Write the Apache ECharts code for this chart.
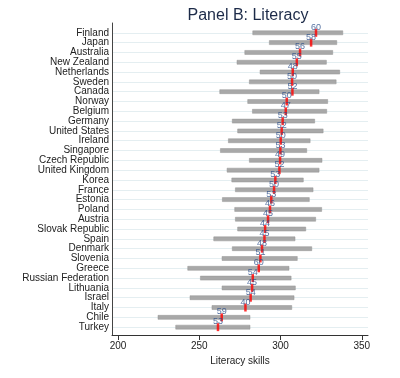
<!DOCTYPE html>
<html>
<head>
<meta charset="utf-8">
<script src="https://cdn.jsdelivr.net/npm/echarts@6/dist/echarts.min.js"></script>
<style>
  html, body { margin: 0; padding: 0; background: #fff; }
  #main { width: 400px; height: 378px; }
</style>
</head>
<body>
<div id="main"></div>
<script>
// countries, top to bottom
var countries = ['Finland', 'Japan', 'Australia', 'New Zealand', 'Netherlands', 'Sweden', 'Canada',
  'Norway', 'Belgium', 'Germany', 'United States', 'Ireland', 'Singapore', 'Czech Republic',
  'United Kingdom', 'Korea', 'France', 'Estonia', 'Poland', 'Austria', 'Slovak Republic', 'Spain',
  'Denmark', 'Slovenia', 'Greece', 'Russian Federation', 'Lithuania', 'Israel', 'Italy', 'Chile', 'Turkey'];

// range bars (low / high)
var lowVals = [282.9, 293.1, 278.0, 273.2, 287.4, 280.8, 262.6,
  279.8, 282.7, 270.3, 273.6, 267.9, 263.0, 280.8,
  267.1, 270.0, 272.2, 264.2, 271.8, 272.2, 273.6, 258.9,
  270.3, 264.0, 242.9, 250.7, 264.0, 244.3, 257.8, 224.6, 235.5];
var highVals = [338.3, 334.6, 332.1, 328.2, 336.4, 334.2, 323.7,
  329.0, 328.4, 321.0, 326.2, 318.2, 316.1, 325.5,
  323.7, 314.0, 320.0, 317.7, 325.3, 321.6, 315.5, 308.9,
  319.2, 310.3, 305.2, 306.5, 309.1, 308.3, 306.9, 281.2, 281.2];

// red marks
var meanVals = [321.8, 318.8, 312.0, 310.0, 307.5, 307.1, 307.3,
  303.8, 303.2, 301.3, 300.7, 300.1, 299.9, 299.7,
  299.3, 296.8, 296.0, 294.3, 293.5, 292.3, 290.5, 290.1,
  288.6, 287.6, 286.6, 282.9, 282.5, 281.6, 278.4, 263.8, 261.5];

// small blue labels
var markLabels = [60, 58, 56, 55, 48, 50, 52,
  50, 47, 53, 52, 50, 53, 49,
  52, 53, 50, 53, 46, 45, 44, 45,
  48, 51, 60, 54, 45, 54, 40, 59, 53];

var xTicks = [200, 250, 300, 350];

var chart = echarts.init(document.getElementById('main'), null, { renderer: 'canvas' });

var rangeData = countries.map(function (c, i) { return [lowVals[i], highVals[i], i]; });
var meanData = countries.map(function (c, i) { return [meanVals[i], i, markLabels[i]]; });

var option = {
  animation: false,
  textStyle: { fontFamily: 'Liberation Sans, Arial, sans-serif' },
  title: {
    text: 'Panel B: Literacy',
    left: 243,
    top: 3,
    textAlign: 'center',
    textStyle: { fontSize: 16, fontWeight: 'normal', color: '#1c2a48' }
  },
  grid: { left: 112, right: 32, top: 23, bottom: 43 },
  xAxis: {
    type: 'value',
    min: 196.3,
    max: 353.8,
    name: 'Literacy skills',
    nameLocation: 'middle',
    nameGap: 17,
    nameTextStyle: { fontSize: 10, color: '#222' },
    axisLine: { show: true, onZero: false, lineStyle: { color: '#333', width: 1 } },
    axisTick: { show: true, length: 5, customValues: xTicks, lineStyle: { color: '#333' } },
    axisLabel: { customValues: xTicks, fontSize: 10, color: '#222', margin: 6 },
    splitLine: { show: false }
  },
  yAxis: {
    type: 'value',
    inverse: true,
    min: -1,
    max: 30.8,
    interval: 1,
    axisLine: { show: true, onZero: false, lineStyle: { color: '#444', width: 1 } },
    axisTick: { show: false },
    axisLabel: {
      fontSize: 10,
      color: '#222',
      margin: 3,
      formatter: function (v) { return countries[v] || ''; }
    },
    splitLine: {
      show: true,
      showMinLine: false,
      showMaxLine: false,
      lineStyle: { color: '#e4eef1', width: 1 }
    }
  },
  series: [
    {
      // gray range bars
      type: 'custom',
      data: rangeData,
      encode: { x: [0, 1], y: 2 },
      renderItem: function (params, api) {
        var p1 = api.coord([api.value(0), api.value(2)]);
        var p2 = api.coord([api.value(1), api.value(2)]);
        var h = 4;
        return {
          type: 'rect',
          shape: { x: p1[0], y: p1[1] - h / 2, width: p2[0] - p1[0], height: h },
          style: { fill: '#a8a8a8', stroke: '#949494', lineWidth: 0.5 }
        };
      },
      z: 2
    },
    {
      // red marks with labels
      type: 'scatter',
      data: meanData,
      symbol: 'rect',
      symbolSize: [2.5, 8],
      itemStyle: { color: '#ff0000' },
      label: {
        show: true,
        position: 'top',
        distance: -3,
        fontSize: 9,
        color: '#2a4d8a',
        formatter: function (p) { return p.value[2]; }
      },
      z: 3
    }
  ]
};

chart.setOption(option);
</script>
</body>
</html>
